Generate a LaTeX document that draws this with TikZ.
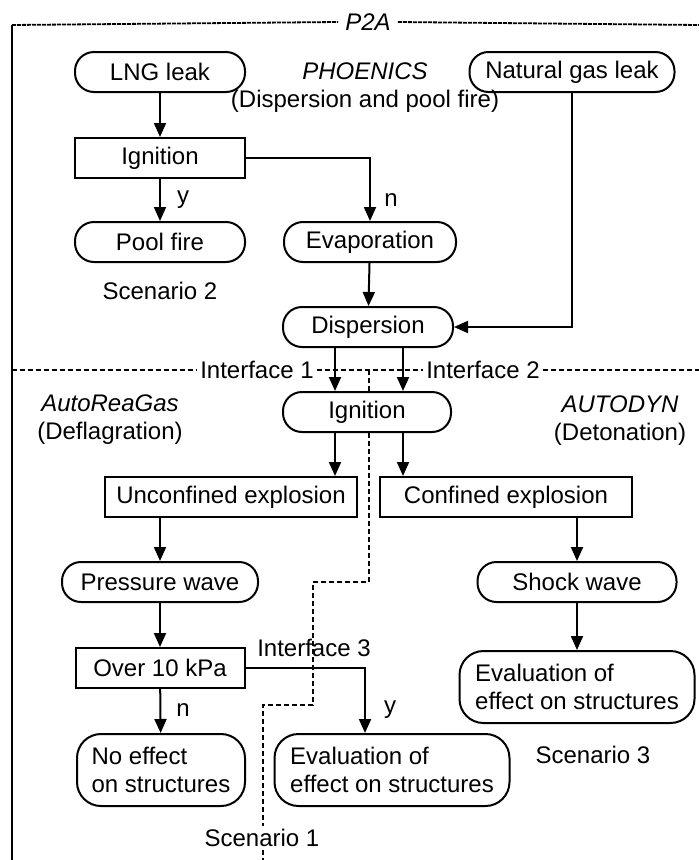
\documentclass[tikz,border=0pt]{standalone}
\usepackage{fontspec}
\setmainfont{Liberation Sans}
\usetikzlibrary{arrows.meta,positioning}

\begin{document}
\begin{tikzpicture}[x=1pt,y=-1pt,font=\fontsize{24}{28}\selectfont,
        term/.style={draw,line width=2pt,rounded corners=19pt,minimum height=40pt,inner sep=2pt},
        termtwo/.style={term,rounded corners=24pt,minimum height=72pt,align=left},
        proc/.style={draw,line width=2pt,minimum height=40pt,inner sep=2pt},
        arr/.style={line width=2pt,-{Triangle[length=14pt,width=12pt]}},
        frame/.style={line width=2pt},
        topline/.style={line width=1.8pt,dash pattern=on 4pt off 1pt},
        iface/.style={line width=1.6pt,dash pattern=on 5pt off 3pt},
        ilabel/.style={inner sep=3pt},
        lbl/.style={inner sep=1pt}]
        \useasboundingbox (0,0) rectangle (699,860);

        % frame
        \node[inner sep=7pt] at (368,22) (title) {\textit{P2A}};
        \coordinate (tl) at (12,25);
        \coordinate (tr) at (699,25);
        \coordinate (bl) at (12,860);
        \draw[topline] (tl) -- (title.west);
        \draw[topline] (title.east) -- (tr);
        \draw[frame] (tl) -- (bl);

        % upper part
        \node[term,minimum width=170pt] at (160,72) (lng) {LNG leak};
        \node[term,minimum width=205pt] at (572,72) (ngl) {Natural gas leak};
        \node[align=center] at (365,88) (phoenics) {\textit{PHOENICS}\\(Dispersion and pool fire)};
        \node[proc,minimum width=170pt] at (160,158) (ign1) {Ignition};
        \node[term,minimum width=170pt] at (160,242) (pool) {Pool fire};
        \node at (160,291) (scen2) {Scenario 2};
        \node[term,minimum width=172pt] at (370,242) (evap) {Evaporation};
        \node[term,minimum width=170pt] at (368,327) (disp) {Dispersion};

        \draw[arr] (lng) -- (ign1);
        \draw[arr] (ign1) -- (pool);
        \node[lbl] at (183,200) (y1) {y};
        \draw[arr] (ign1.east) -| (evap.north);
        \node[lbl] at (391,200) (n1) {n};
        \draw[arr] (evap) -- (disp);
        \draw[arr] (ngl.south) |- (disp.east);

        % interfaces 1 and 2
        \node[ilabel] at (257,370) (if1) {Interface 1};
        \node[ilabel] at (483,370) (if2) {Interface 2};
        \coordinate (il) at (12,370);
        \coordinate (ir) at (699,370);
        \draw[iface] (il) -- (if1.west);
        \draw[iface] (if1.east) -- (if2.west);
        \draw[iface] (if2.east) -- (ir);

        % lower part
        \node[term,minimum width=168pt] at (367,412) (ign2) {Ignition};
        \node[align=center] at (110,420) (autorea) {\textit{AutoReaGas}\\(Deflagration)};
        \node[align=center] at (620,421) (autodyn) {\textit{AUTODYN}\\(Detonation)};
        \node[proc,minimum width=252pt] at (231,497) (unconf) {Unconfined explosion};
        \node[proc,minimum width=252pt] at (506,497) (conf) {Confined explosion};
        \node[term,minimum width=196pt] at (160,582) (pwave) {Pressure wave};
        \node[term,minimum width=199pt] at (577,582) (swave) {Shock wave};
        \node[proc,minimum width=169pt] at (160,668) (over) {Over 10 kPa};
        \node[termtwo,minimum width=168pt] at (161,770) (noeff) {No effect\\on structures};
        \node[termtwo,minimum width=235pt] at (392,770) (evall) {Evaluation of\\effect on structures};
        \node[termtwo,minimum width=235pt] at (577,687) (evalr) {Evaluation of\\effect on structures};
        \node at (593,755) (scen3) {Scenario 3};
        \node at (314,648) (if3) {Interface 3};
        \node[ilabel] at (262,838) (scen1) {Scenario 1};

        \draw[arr] ([xshift=-33pt]disp.south) -- ([xshift=-33pt]disp.south |- ign2.north);
        \draw[arr] ([xshift=35pt]disp.south) -- ([xshift=35pt]disp.south |- ign2.north);
        \draw[arr] ([xshift=-32pt]ign2.south) -- ([xshift=-32pt]ign2.south |- unconf.north);
        \draw[arr] ([xshift=36pt]ign2.south) -- ([xshift=36pt]ign2.south |- conf.north);
        \draw[arr] (pwave.north |- unconf.south) -- (pwave);
        \draw[arr] (pwave) -- (over);
        \draw[arr] (over) -- (noeff);
        \node[lbl] at (183,710) (n2) {n};
        \draw[arr] (over.east) -| ([xshift=-27pt]evall.north);
        \node[lbl] at (390,710) (y2) {y};
        \draw[arr] (swave.north |- conf.south) -- (swave);
        \draw[arr] (swave) -- (evalr);

        % interface 3
        \coordinate (d0) at (369,370);
        \coordinate (d1) at (369,582);
        \coordinate (d2) at (313,582);
        \coordinate (d3) at (313,705);
        \coordinate (d4) at (263,705);
        \coordinate (d5) at (263,860);
        \draw[iface] (d0) -- (d0 |- ign2.north);
        \draw[iface] (d0 |- ign2.south) -- (d1) -- (d2) -- (d3) -- (d4) -- (d4 |- scen1.north);
        \draw[iface] (d4 |- scen1.south) -- (d5);
\end{tikzpicture}
\end{document}
